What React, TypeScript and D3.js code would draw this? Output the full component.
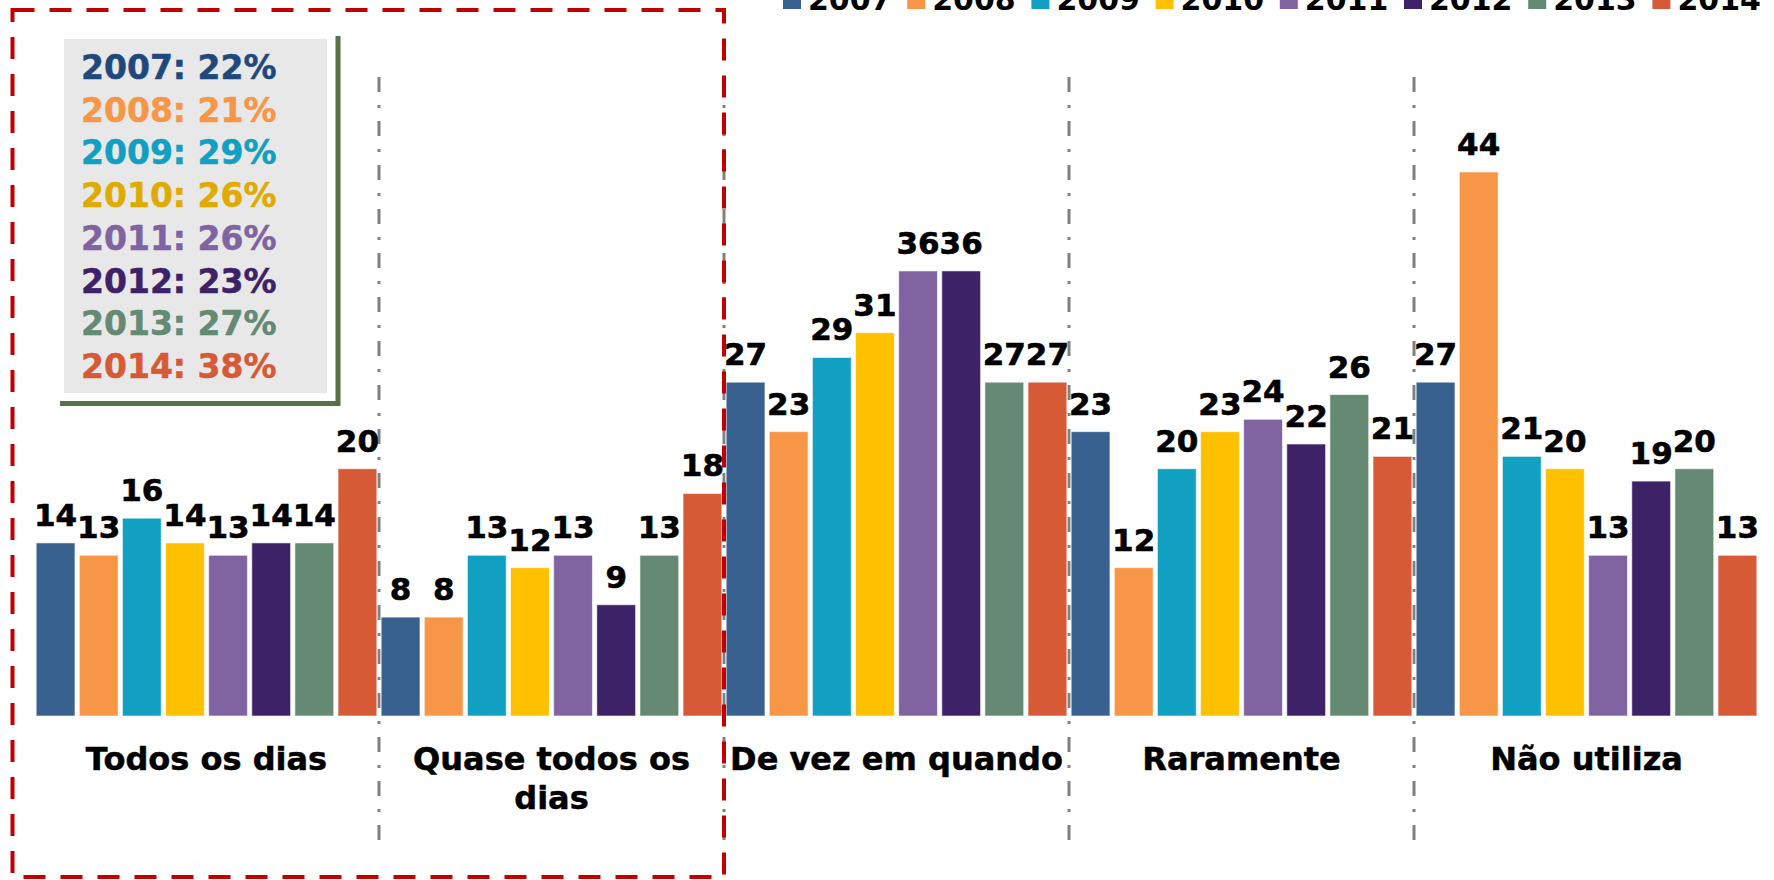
import React from 'react';
import * as d3 from 'd3';

const categories = ['Todos os dias', 'Quase todos os dias', 'De vez em quando', 'Raramente', 'Não utiliza'];
const years = ['2007', '2008', '2009', '2010', '2011', '2012', '2013', '2014'];
const yearColors = ['#386190', '#F79646', '#11A0C1', '#FFC000', '#8064A2', '#3E2268', '#648A73', '#D65A36'];
const boxTextColors = ['#1F497D', '#F79646', '#11A0C1', '#E0AB00', '#8064A2', '#3E2268', '#648A73', '#D65A36'];
const boxShares = [22, 21, 29, 26, 26, 23, 27, 38];

// values per category, one per year
const values2007 = [14, 8, 27, 23, 27];
const values2008 = [13, 8, 23, 12, 44];
const values2009 = [16, 13, 29, 20, 21];
const values2010 = [14, 12, 31, 23, 20];
const values2011 = [13, 13, 36, 24, 13];
const values2012 = [14, 9, 36, 22, 19];
const values2013 = [14, 13, 27, 26, 20];
const values2014 = [20, 18, 27, 21, 13];
const series = [values2007, values2008, values2009, values2010, values2011, values2012, values2013, values2014];

const W = 1774;
const H = 880;
const FONT = '"DejaVu Sans", Verdana, sans-serif';

const wrap = (text: string, maxW: number, font: string) => {
  const ctx = document.createElement('canvas').getContext('2d')!;
  ctx.font = font;
  const words = text.split(' ');
  const lines: string[] = [];
  let cur = '';
  words.forEach(w => {
    const t = cur ? cur + ' ' + w : w;
    if (ctx.measureText(t).width > maxW && cur) {
      lines.push(cur);
      cur = w;
    } else cur = t;
  });
  lines.push(cur);
  return lines;
};

const App = () => {
  const x0 = d3.scaleBand().domain(categories).range([34, 1759]).padding(0);
  const x1 = d3.scaleBand().domain(years).range([0, x0.bandwidth()]).paddingInner(0.1).paddingOuter(0.05);
  const y = d3.scaleLinear().domain([0, 44]).range([716, 172]);

  return (
    <svg width={W} height={H} style={{ position: 'absolute', left: 0, top: 0, background: '#fff' }} fontFamily={FONT}>
      {/* separators */}
      {categories.slice(1).map(c => (
        <line key={c} x1={x0(c)} x2={x0(c)} y1={77} y2={843} stroke="#808080" strokeWidth={3}
          strokeDasharray="15,13,3,13" />
      ))}

      {/* bars */}
      {categories.map((c, ci) => (
        <g key={c} transform={`translate(${x0(c)},0)`}>
          {years.map((yr, yi) => {
            const v = series[yi][ci];
            return (
              <g key={yr}>
                <rect x={x1(yr)} y={y(v)} width={x1.bandwidth()} height={y(0) - y(v)}
                  fill={yearColors[yi]} stroke="#fff" strokeOpacity={0.6} strokeWidth={1} />
                <text x={(x1(yr) as number) + x1.bandwidth() / 2} y={y(v) - 17} textAnchor="middle"
                  fontSize={31} fontWeight="bold" fill="#000" stroke="#000" strokeWidth={0.6}>{v}</text>
              </g>
            );
          })}
          {wrap(c, 340, `bold 32px ${FONT}`).map((ln, li) => (
            <text key={li} x={x0.bandwidth() / 2} y={770 + li * 39} textAnchor="middle"
              fontSize={32} fontWeight="bold" fill="#000" stroke="#000" strokeWidth={0.5}>{ln}</text>
          ))}
        </g>
      ))}

      {/* top legend */}
      {years.map((yr, i) => (
        <g key={yr} transform={`translate(${783 + i * 124.2},0)`}>
          <rect x={0} y={-9} width={18} height={18} fill={yearColors[i]} />
          <text x={25} y={10} fontSize={30} fontWeight="bold" fill="#000">{yr}</text>
        </g>
      ))}

      {/* share box */}
      <path d="M60,403.5 H338 V36" fill="none" stroke="#5A7148" strokeWidth={5} />
      <rect x={64} y={39} width={263} height={354} fill="#E8E8E8" />
      {years.map((yr, i) => (
        <text key={yr} x={81} y={79 + i * 42.7} fontSize={33} fontWeight="bold" fill={boxTextColors[i]}
          stroke={boxTextColors[i]} strokeWidth={0.5}>
          {`${yr}: ${boxShares[i]}%`}
        </text>
      ))}

      <rect x={12.5} y={10} width={711.5} height={867} fill="none" stroke="#C00000" strokeWidth={4}
        strokeDasharray="22,15" />
    </svg>
  );
};

export default App;
